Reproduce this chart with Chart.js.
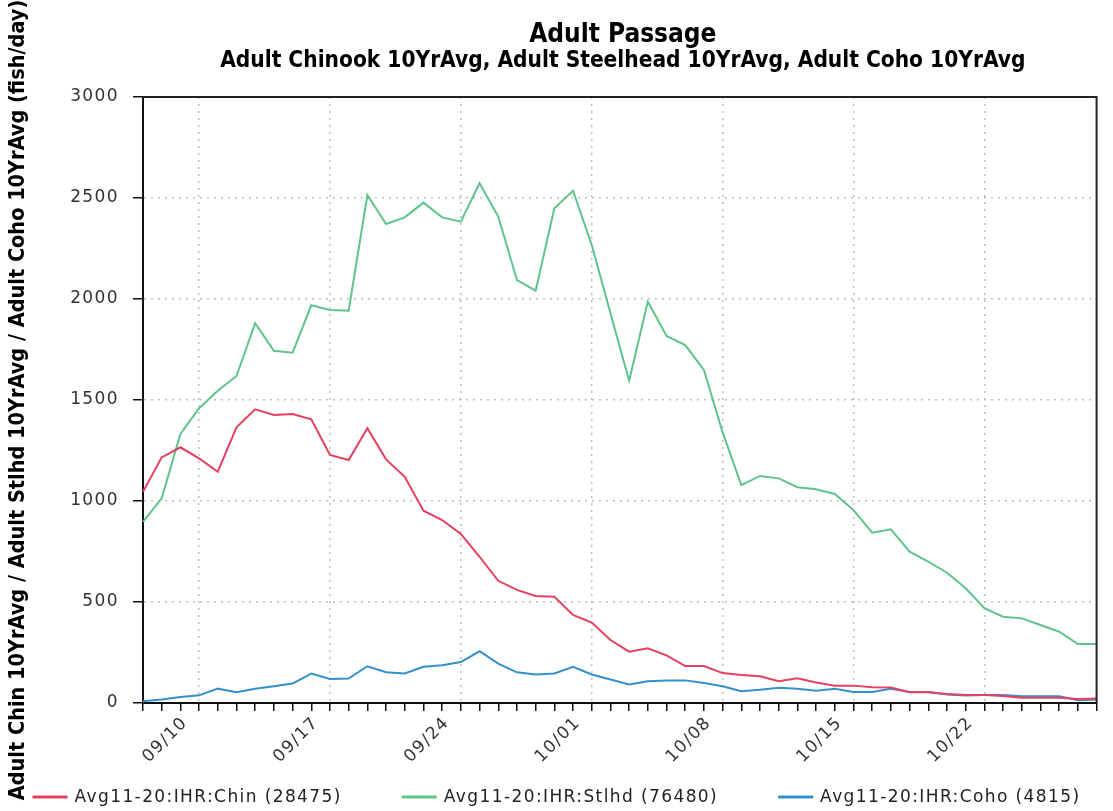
<!DOCTYPE html>
<html>
<head>
<meta charset="utf-8">
<script src="https://cdn.jsdelivr.net/npm/chart.js@4"></script>
<style>
  html, body { margin: 0; padding: 0; background: #fff; }
  #wrap { width: 1113px; height: 811px; }
</style>
</head>
<body>
<div id="wrap"><canvas id="c" width="1113" height="811"></canvas></div>
<script>
// Daily 10-year average passage at Ice Harbor, 09/07 .. 10/28
const dates = [
  '09/07','09/08','09/09','09/10','09/11','09/12','09/13','09/14','09/15','09/16',
  '09/17','09/18','09/19','09/20','09/21','09/22','09/23','09/24','09/25','09/26',
  '09/27','09/28','09/29','09/30','10/01','10/02','10/03','10/04','10/05','10/06',
  '10/07','10/08','10/09','10/10','10/11','10/12','10/13','10/14','10/15','10/16',
  '10/17','10/18','10/19','10/20','10/21','10/22','10/23','10/24','10/25','10/26',
  '10/27','10/28'
];
const weekLabels = ['09/10','09/17','09/24','10/01','10/08','10/15','10/22'];

const chinook = [
  1046,1216,1266,1211,1145,1365,1454,1426,1431,1404,
  1228,1203,1360,1206,1120,952,906,837,724,605,
  560,530,526,436,398,312,254,271,236,183,
  183,148,139,132,108,122,101,86,86,78,
  77,53,53,45,40,40,35,26,26,26,
  20,22
];
const steelhead = [
  897,1013,1332,1459,1546,1619,1880,1744,1734,1969,
  1946,1942,2515,2371,2404,2477,2404,2383,2573,2408,
  2094,2041,2449,2536,2267,1930,1595,1987,1817,1772,
  1649,1340,1079,1124,1112,1068,1058,1035,955,843,
  860,749,700,645,568,469,427,419,386,353,
  292,292
];
const coho = [
  9,17,30,38,71,53,70,83,96,146,
  119,121,182,152,146,179,187,203,256,195,
  152,141,146,179,141,116,92,108,112,112,
  99,83,58,66,75,71,61,70,55,55,
  70,55,55,42,37,39,39,34,34,34,
  14,17
];

const seriesNames = [
  'Avg11-20:IHR:Chin (28475)',
  'Avg11-20:IHR:Stlhd (76480)',
  'Avg11-20:IHR:Coho (4815)'
];
const seriesColors = ['#e6405e', '#5fc48a', '#3490cc'];

const titleText = 'Adult Passage';
const subtitleText = 'Adult Chinook 10YrAvg, Adult Steelhead 10YrAvg, Adult Coho 10YrAvg';
const yTitleText = 'Adult Chin 10YrAvg / Adult Stlhd 10YrAvg / Adult Coho 10YrAvg (fish/day)';

const CONDENSED = '"DejaVu Sans Condensed", "DejaVu Sans", sans-serif';
const PLAIN = '"DejaVu Sans", sans-serif';
const LETTER_SPACING = '1.4px';

// Titles and legend drawn centred on the plot / canvas
const decorations = {
  id: 'decorations',
  afterDatasetsDraw(chart) {
    // widen tick labels (drawn after datasets, ticks.z = 1)
    chart.ctx.letterSpacing = LETTER_SPACING;
  },
  afterDraw(chart) {
    const ctx = chart.ctx;
    const area = chart.chartArea;
    ctx.save();
    ctx.letterSpacing = '0px';

    // frame on the top and right of the plot
    ctx.strokeStyle = '#222';
    ctx.lineWidth = 2;
    ctx.beginPath();
    ctx.moveTo(area.left, area.top);
    ctx.lineTo(area.right, area.top);
    ctx.lineTo(area.right, area.bottom);
    ctx.stroke();

    // title + subtitle
    const cx = (area.left + area.right) / 2 + 3;
    ctx.fillStyle = '#000';
    ctx.textAlign = 'center';
    ctx.textBaseline = 'middle';
    ctx.font = 'bold 26px ' + CONDENSED;
    ctx.fillText(titleText, cx, 35);
    ctx.font = 'bold 22.5px ' + CONDENSED;
    ctx.fillText(subtitleText, cx, 61);

    // legend row
    ctx.font = '17px ' + PLAIN;
    ctx.letterSpacing = LETTER_SPACING;
    const sample = 35, gap = 7, spacing = 60;
    const widths = seriesNames.map(t => ctx.measureText(t).width);
    const total = widths.reduce((s, w) => s + sample + gap + w, 0) + spacing * (seriesNames.length - 1);
    let x = (chart.width - total) / 2;
    const y = 797;
    ctx.textAlign = 'left';
    seriesNames.forEach((name, i) => {
      ctx.fillStyle = seriesColors[i];
      ctx.fillRect(x, y - 1.5, sample, 3);
      ctx.fillStyle = '#222';
      ctx.fillText(name, x + sample + gap, y + 1);
      x += sample + gap + widths[i] + spacing;
    });
    ctx.restore();
    ctx.letterSpacing = '0px';
  }
};

const dottedGrid = '#bdbdbd';

new Chart(document.getElementById('c'), {
  type: 'line',
  data: {
    labels: dates,
    datasets: [
      { label: seriesNames[0], data: chinook, borderColor: seriesColors[0] },
      { label: seriesNames[1], data: steelhead, borderColor: seriesColors[1] },
      { label: seriesNames[2], data: coho, borderColor: seriesColors[2] }
    ].map(d => Object.assign(d, {
      borderWidth: 2, pointRadius: 0, tension: 0, fill: false
    }))
  },
  options: {
    responsive: false,
    animation: false,
    devicePixelRatio: 1,
    layout: { padding: { top: 97, right: 7, bottom: 26, left: 0 } },
    plugins: {
      legend: { display: false },
      title: { display: false },
      tooltip: { enabled: false }
    },
    scales: {
      x: {
        type: 'category',
        offset: false,
        afterFit(scale) { scale.height = 82; },
        border: { display: true, color: '#111', width: 2, dash: [2, 5] },
        grid: {
          color: c => (c.tick && c.tick.label) ? dottedGrid : 'rgba(0,0,0,0)',
          lineWidth: 1.5,
          drawTicks: true,
          tickLength: 8,
          tickColor: '#111',
          tickWidth: 1.5
        },
        ticks: {
          autoSkip: false,
          minRotation: 45,
          maxRotation: 45,
          padding: 2,
          labelOffset: -14,
          color: '#333',
          font: { family: PLAIN, size: 17 },
          z: 1,
          callback(value) {
            const l = this.getLabelForValue(value);
            return weekLabels.includes(l) ? l : '';
          }
        }
      },
      y: {
        min: 0,
        max: 3000,
        afterFit(scale) { scale.width = 143; },
        border: { display: true, color: '#111', width: 2, dash: [2, 5] },
        grid: {
          color: c => (c.tick && c.tick.value > 0 && c.tick.value < 3000) ? dottedGrid : 'rgba(0,0,0,0)',
          lineWidth: 1.5,
          tickLength: 10,
          tickColor: '#111',
          tickWidth: 1.5
        },
        ticks: {
          stepSize: 500,
          padding: 14,
          color: '#333',
          font: { family: PLAIN, size: 17 },
          z: 1,
          callback: value => String(value)
        },
        title: {
          display: true,
          text: yTitleText,
          color: '#000',
          font: { family: CONDENSED, size: 21.5, weight: 'bold' },
          padding: { top: 6, bottom: 0 }
        }
      }
    }
  },
  plugins: [decorations]
});
</script>
</body>
</html>
